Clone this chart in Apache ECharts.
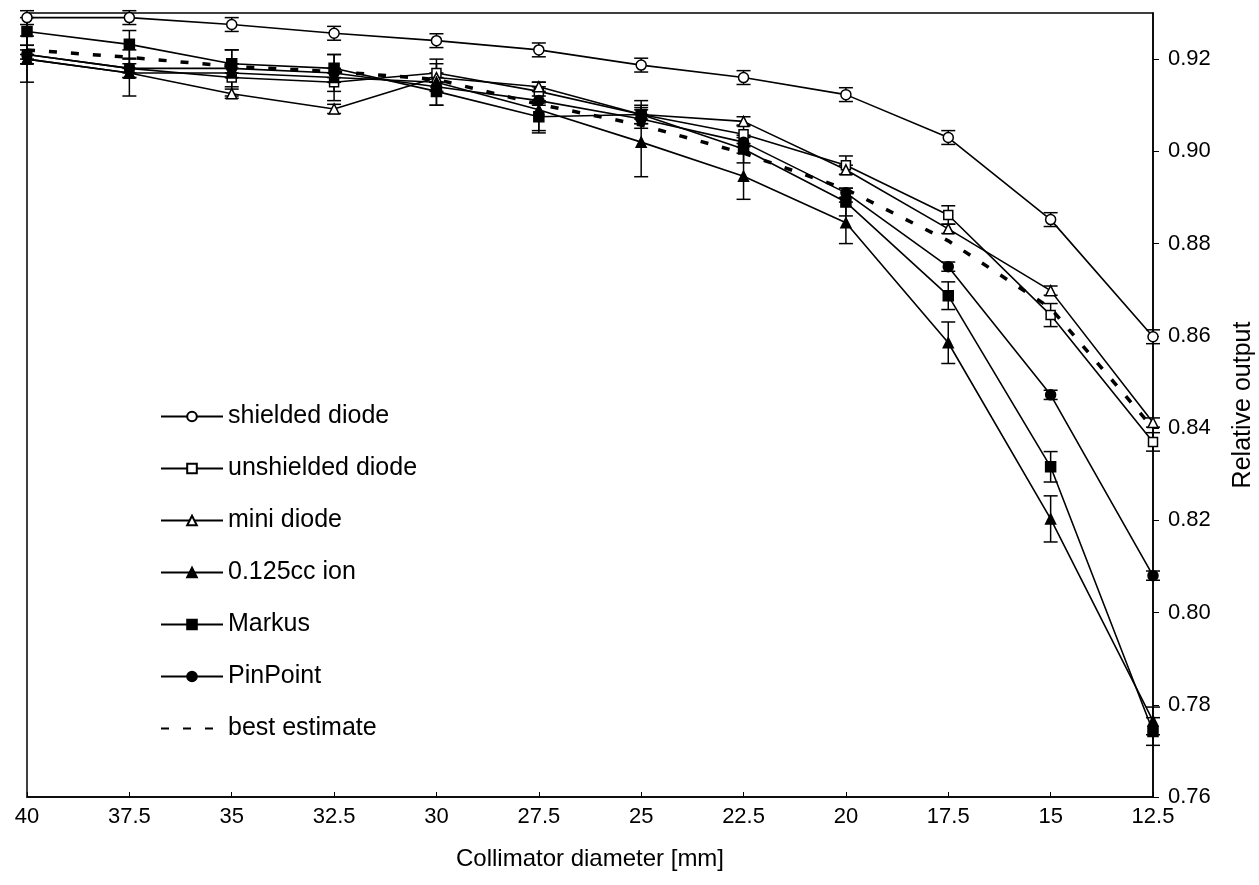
<!DOCTYPE html>
<html>
<head>
    <meta charset="utf-8">
    <title>Relative output vs collimator diameter</title>
    <script src="https://cdn.jsdelivr.net/npm/echarts@6/dist/echarts.min.js"></script>
    <style>
        html, body { margin: 0; padding: 0; background: #fff; }
        #main { width: 1259px; height: 885px; }
    </style>
</head>
<body>
<div id="main"></div>
<script type="text/javascript">
    // collimator diameters [mm]
    var diameters = [40, 37.5, 35, 32.5, 30, 27.5, 25, 22.5, 20, 17.5, 15, 12.5];

    // relative output per detector
    var shielded   = [0.929, 0.929, 0.9275, 0.9256, 0.924, 0.922, 0.9187, 0.916, 0.9123, 0.903, 0.8852, 0.8598];
    var unshielded = [0.921, 0.918, 0.916, 0.915, 0.917, 0.913, 0.908, 0.9037, 0.897, 0.8862, 0.8645, 0.837];
    var mini       = [0.920, 0.917, 0.9125, 0.9092, 0.916, 0.914, 0.908, 0.9065, 0.896, 0.8832, 0.8698, 0.8412];
    var ion        = [0.920, 0.917, 0.917, 0.916, 0.915, 0.909, 0.902, 0.8946, 0.8845, 0.8585, 0.8203, 0.7765];
    var markus     = [0.926, 0.9232, 0.919, 0.918, 0.913, 0.9075, 0.908, 0.9005, 0.889, 0.8687, 0.8316, 0.7742];
    var pinpoint   = [0.921, 0.918, 0.918, 0.917, 0.914, 0.911, 0.907, 0.902, 0.891, 0.875, 0.8472, 0.808];
    var best       = [0.922, 0.9204, 0.9184, 0.9173, 0.9156, 0.9102, 0.9057, 0.8996, 0.8918, 0.8806, 0.866, 0.840];

    // half width of the error bars
    var shieldedErr   = [0.0015, 0.0015, 0.0015, 0.0015, 0.0015, 0.0015, 0.0015, 0.0015, 0.0015, 0.0015, 0.0015, 0.0015];
    var unshieldedErr = [0.002, 0.002, 0.002, 0.002, 0.002, 0.002, 0.002, 0.002, 0.002, 0.002, 0.0025, 0.002];
    var miniErr       = [0.001, 0.001, 0.001, 0.001, 0.001, 0.001, 0.001, 0.001, 0.001, 0.001, 0.001, 0.001];
    var ionErr        = [0.005, 0.005, 0.005, 0.005, 0.005, 0.005, 0.0075, 0.005, 0.0045, 0.0045, 0.005, 0.003];
    var markusErr     = [0.003, 0.003, 0.003, 0.003, 0.003, 0.003, 0.003, 0.003, 0.003, 0.003, 0.0033, 0.003];
    var pinpointErr   = [0.001, 0.001, 0.001, 0.001, 0.001, 0.001, 0.001, 0.001, 0.001, 0.001, 0.001, 0.001];

    var yTicks = [0.76, 0.78, 0.80, 0.82, 0.84, 0.86, 0.88, 0.90, 0.92];

    var names = ['shielded diode', 'unshielded diode', 'mini diode', '0.125cc ion', 'Markus', 'PinPoint', 'best estimate'];

    function pairs(vals) {
        return diameters.map(function (d, i) { return [d, vals[i]]; });
    }

    // error bar data: [x, low, high]
    var errData = [];
    [[shielded, shieldedErr], [unshielded, unshieldedErr], [mini, miniErr],
     [ion, ionErr], [markus, markusErr], [pinpoint, pinpointErr]].forEach(function (s) {
        diameters.forEach(function (d, i) {
            errData.push([d, s[0][i] - s[1][i], s[0][i] + s[1][i]]);
        });
    });

    function lineSeries(name, vals, symbol, filled, size) {
        return {
            name: name,
            type: 'line',
            data: pairs(vals),
            symbol: symbol,
            symbolSize: size,
            showAllSymbol: true,
            lineStyle: {color: '#000', width: 1.6},
            itemStyle: {color: filled ? '#000' : '#fff', borderColor: '#000', borderWidth: 1.5},
            z: 3
        };
    }

    var myChart = echarts.init(document.getElementById('main'));

    var font = "'Liberation Sans', Arial, Helvetica, sans-serif";

    var option = {
        animation: false,
        backgroundColor: '#fff',
        textStyle: {fontFamily: font, color: '#000'},
        grid: {
            left: 27, right: 106, top: 13, bottom: 88,
            outerBoundsMode: 'none',
            show: true, borderColor: '#000', borderWidth: 1.5
        },
        legend: {
            orient: 'vertical',
            left: 155,
            top: 399,
            itemWidth: 62,
            itemHeight: 12,
            itemGap: 27,
            data: names,
            textStyle: {fontSize: 25, color: '#000', fontFamily: font}
        },
        xAxis: {
            type: 'value',
            inverse: true,
            min: 12.5,
            max: 40,
            interval: 2.5,
            name: 'Collimator diameter [mm]',
            nameLocation: 'middle',
            nameGap: 50,
            nameTextStyle: {fontSize: 24, color: '#000', fontFamily: font},
            axisLine: {lineStyle: {color: '#000', width: 1.5}},
            axisTick: {show: true, length: 5, inside: true, lineStyle: {color: '#000'}},
            axisLabel: {fontSize: 22, color: '#000', margin: 9, fontFamily: font},
            splitLine: {show: false}
        },
        yAxis: {
            type: 'value',
            position: 'right',
            min: 0.76,
            max: 0.93,
            interval: 0.02,
            name: 'Relative output',
            nameLocation: 'middle',
            nameGap: 78,
            nameRotate: 90,
            nameTextStyle: {fontSize: 25, color: '#000', fontFamily: font},
            axisLine: {show: true, lineStyle: {color: '#000', width: 1.5}},
            axisTick: {show: true, length: 6, lineStyle: {color: '#000'}},
            axisLabel: {
                fontSize: 22, color: '#000', margin: 15, fontFamily: font,
                showMaxLabel: false,
                formatter: function (v) {
                    var hit = yTicks.some(function (t) { return Math.abs(t - v) < 1e-6; });
                    return hit ? v.toFixed(2) : '';
                }
            },
            splitLine: {show: false}
        },
        series: [
            {
                name: 'errors',
                type: 'custom',
                data: errData,
                z: 2,
                renderItem: function (params, api) {
                    var x = api.value(0);
                    var lo = api.coord([x, api.value(1)]);
                    var hi = api.coord([x, api.value(2)]);
                    var w = 7;
                    var st = {stroke: '#000', lineWidth: 1.5};
                    return {
                        type: 'group',
                        children: [
                            {type: 'line', shape: {x1: lo[0], y1: lo[1], x2: hi[0], y2: hi[1]}, style: st},
                            {type: 'line', shape: {x1: lo[0] - w, y1: lo[1], x2: lo[0] + w, y2: lo[1]}, style: st},
                            {type: 'line', shape: {x1: hi[0] - w, y1: hi[1], x2: hi[0] + w, y2: hi[1]}, style: st}
                        ]
                    };
                }
            },
            lineSeries('shielded diode', shielded, 'circle', false, 10),
            lineSeries('unshielded diode', unshielded, 'rect', false, 9),
            lineSeries('mini diode', mini, 'triangle', false, 10),
            lineSeries('0.125cc ion', ion, 'triangle', true, 10),
            lineSeries('Markus', markus, 'rect', true, 10),
            lineSeries('PinPoint', pinpoint, 'circle', true, 10),
            {
                name: 'best estimate',
                type: 'line',
                data: pairs(best),
                symbol: 'none',
                lineStyle: {color: '#000', width: 3.5, type: [8, 14]},
                itemStyle: {color: 'rgba(0,0,0,0)'},
                z: 4
            }
        ]
    };

    myChart.setOption(option);
</script>
</body>
</html>
